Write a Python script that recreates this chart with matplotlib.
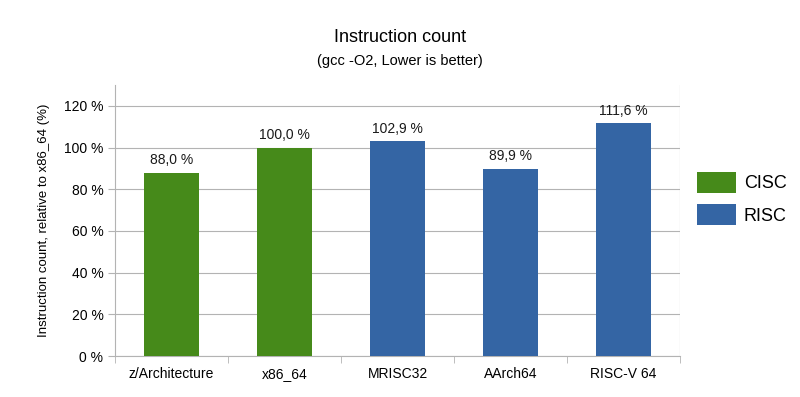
import numpy as np
import matplotlib.pyplot as plt
from matplotlib.patches import Patch

plt.rcParams['font.family'] = ['Liberation Sans', 'DejaVu Sans']

categories = ['z/Architecture', 'x86_64', 'MRISC32', 'AArch64', 'RISC-V 64']
values = [88.0, 100.0, 102.9, 89.9, 111.6]
groups = ['CISC', 'CISC', 'RISC', 'RISC', 'RISC']
group_colors = {'CISC': '#468a1a', 'RISC': '#3465a4'}
y_ticks = [0, 20, 40, 60, 80, 100, 120]

fig = plt.figure(figsize=(8, 3.97), dpi=100)
ax = fig.add_axes([0.144, 0.103, 0.706, 0.683])

grid_col = '#b3b3b3'
x = np.arange(len(categories))
ax.bar(x, values, width=0.49, color=[group_colors[g] for g in groups], zorder=3)

for xi, v in zip(x, values):
    ax.text(xi, v + 2.5, f"{v:.1f} %".replace('.', ','), ha='center', va='bottom',
            fontsize=10, color='#1a1a1a')

ax.set_xlim(-0.5, len(categories) - 0.5)
ax.set_ylim(0, 130)
ax.set_yticks(y_ticks)
ax.set_yticklabels([f"{t} %" for t in y_ticks], fontsize=10)
ax.set_xticks(x)
ax.set_xticklabels(categories, fontsize=10)
ax.set_xticks(np.arange(-0.5, len(categories)), minor=True)
ax.tick_params(axis='x', which='major', length=0, pad=8)
ax.tick_params(axis='x', which='minor', length=5, color=grid_col)
ax.tick_params(axis='y', length=5, color=grid_col)
ax.yaxis.grid(True, color=grid_col, linewidth=0.8, zorder=0)
ax.axvline(len(categories) - 0.5, color=grid_col, linewidth=0.8, zorder=0)

for s in ['top', 'right']:
    ax.spines[s].set_visible(False)
for s in ['left', 'bottom']:
    ax.spines[s].set_color(grid_col)

ax.set_ylabel('Instruction count, relative to x86_64 (%)', fontsize=9.5, labelpad=10)

fig.text(0.5, 0.905, 'Instruction count', ha='center', va='center', fontsize=13)
fig.text(0.5, 0.847, '(gcc -O2, Lower is better)', ha='center', va='center', fontsize=10.5)

handles = [Patch(facecolor=group_colors[g], label=g) for g in ['CISC', 'RISC']]
fig.legend(handles=handles, loc='center left', bbox_to_anchor=(0.871, 0.5),
           frameon=False, fontsize=13, handlelength=2.15, handleheight=1.45,
           handletextpad=0.45, labelspacing=0.6, borderpad=0, borderaxespad=0)

fig.savefig('out.png', dpi=100)
